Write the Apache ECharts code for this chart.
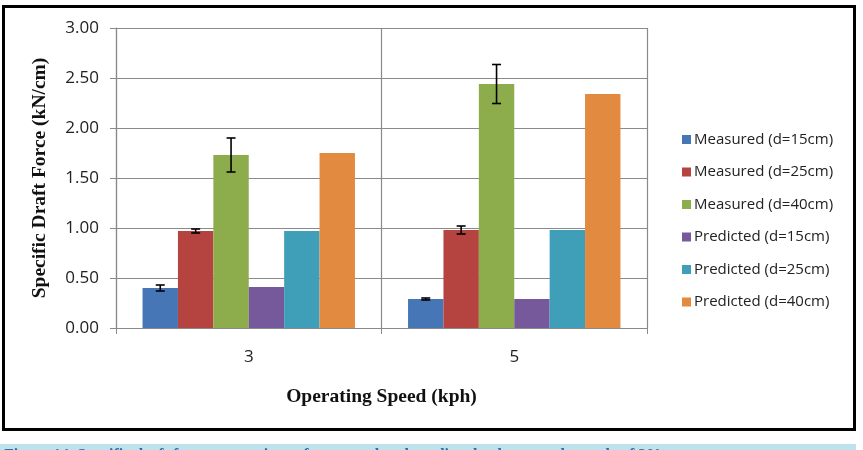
<!DOCTYPE html>
<html>
<head>
<meta charset="utf-8">
<script src="https://cdn.jsdelivr.net/npm/echarts@6/dist/echarts.min.js"></script>
<style>
html,body{margin:0;padding:0;background:#fff;}
#chart{width:863px;height:450px;}
</style>
</head>
<body>
<div id="chart"></div>
<script>
const categories = ['3', '5'];
const seriesNames = ['Measured (d=15cm)', 'Measured (d=25cm)', 'Measured (d=40cm)', 'Predicted (d=15cm)', 'Predicted (d=25cm)', 'Predicted (d=40cm)'];
const measured15 = [0.40, 0.29];
const measured25 = [0.97, 0.98];
const measured40 = [1.73, 2.44];
const predicted15 = [0.41, 0.29];
const predicted25 = [0.97, 0.98];
const predicted40 = [1.75, 2.34];
const err15 = [0.03, 0.01];
const err25 = [0.02, 0.04];
const err40 = [0.17, 0.195];
const yTicks = [0, 0.5, 1.0, 1.5, 2.0, 2.5, 3.0];

const colors = ['#4676b5', '#b5433f', '#8dac4c', '#75599b', '#409fb8', '#e28a3f'];
const values = [measured15, measured25, measured40, predicted15, predicted25, predicted40];
const errs = [err15, err25, err40];

const barSeries = values.map((v, i) => ({
  name: seriesNames[i],
  type: 'bar',
  data: v,
  barGap: '0%',
  barCategoryGap: '20%',
  itemStyle: { color: colors[i] },
  emphasis: { disabled: true }
}));

const errData = [];
errs.forEach((e, s) => {
  e.forEach((ev, c) => errData.push([c, values[s][c], ev, s]));
});

const errSeries = {
  name: 'errorbars',
  type: 'custom',
  z: 10,
  encode: { x: 0, y: 1 },
  data: errData,
  renderItem: function (params, api) {
    const c = api.value(0), v = api.value(1), e = api.value(2), s = api.value(3);
    const catW = api.size([1, 0])[0];
    const barW = catW * 0.8 / 6;
    const x = api.coord([c, v])[0] + (s - 2.5) * barW;
    const yTop = api.coord([c, v + e])[1];
    const yBot = api.coord([c, v - e])[1];
    const cap = 4.5;
    const st = { stroke: '#000', lineWidth: 1.6 };
    return {
      type: 'group',
      children: [
        { type: 'line', shape: { x1: x, y1: yTop, x2: x, y2: yBot }, style: st },
        { type: 'line', shape: { x1: x - cap, y1: yTop, x2: x + cap, y2: yTop }, style: st },
        { type: 'line', shape: { x1: x - cap, y1: yBot, x2: x + cap, y2: yBot }, style: st }
      ]
    };
  }
};

const chart = echarts.init(document.getElementById('chart'), null, { renderer: 'canvas' });
chart.setOption({
  animation: false,
  backgroundColor: '#fff',
  grid: { left: 116, right: 216, top: 28, bottom: 122 },
  legend: {
    orient: 'vertical',
    left: 677,
    top: 126,
    data: seriesNames,
    itemWidth: 9,
    itemHeight: 9,
    itemGap: 15.5,
    icon: 'rect',
    textStyle: { fontFamily: 'Open Sans', fontSize: 15, color: '#222', lineHeight: 17, padding: [0, 0, 0, -2] }
  },
  xAxis: {
    type: 'category',
    data: categories,
    name: 'Operating Speed (kph)',
    nameLocation: 'middle',
    nameGap: 59,
    nameTextStyle: { fontFamily: 'Liberation Serif', fontWeight: 'bold', fontSize: 19.5, color: '#111' },
    axisLine: { lineStyle: { color: '#8a8a8a', width: 1.2 } },
    axisTick: { show: true, length: 6, interval: 0, lineStyle: { color: '#8a8a8a' } },
    axisLabel: { fontFamily: 'Open Sans', fontSize: 17, color: '#222', margin: 21 },
    splitLine: { show: true, interval: 0, lineStyle: { color: '#8a8a8a', width: 1.2 } }
  },
  yAxis: {
    type: 'value',
    min: 0,
    max: 3,
    interval: 0.5,
    name: 'Specific Draft Force (kN/cm)',
    nameLocation: 'middle',
    nameGap: 66,
    nameTextStyle: { fontFamily: 'Liberation Serif', fontWeight: 'bold', fontSize: 19.5, color: '#111' },
    axisLine: { show: true, lineStyle: { color: '#8a8a8a', width: 1.2 } },
    axisTick: { show: true, length: 6, lineStyle: { color: '#8a8a8a' } },
    axisLabel: {
      fontFamily: 'Open Sans', fontSize: 17, color: '#222', margin: 17,
      formatter: v => (yTicks.indexOf(v) >= 0 ? v.toFixed(2) : '')
    },
    splitLine: { show: true, lineStyle: { color: '#8a8a8a', width: 1.2 } }
  },
  series: barSeries.concat([errSeries]),
  graphic: [
    { type: 'rect', shape: { x: 3.5, y: 6.5, width: 851, height: 423 }, style: { fill: null, stroke: '#000', lineWidth: 3 }, z: 100 },
    { type: 'rect', shape: { x: 0, y: 444, width: 856, height: 6 }, style: { fill: '#bfe2ee' }, z: 100 },
    { type: 'text', x: 4, y: 447.5, style: { text: 'Figure 14. Specific draft force comparison of measured and predicted values at rake angle of 20°.', fontFamily: 'Liberation Serif', fontWeight: 'bold', fontSize: 16, fill: '#2f6fa3' }, z: 101 }
  ]
});
</script>
</body>
</html>
